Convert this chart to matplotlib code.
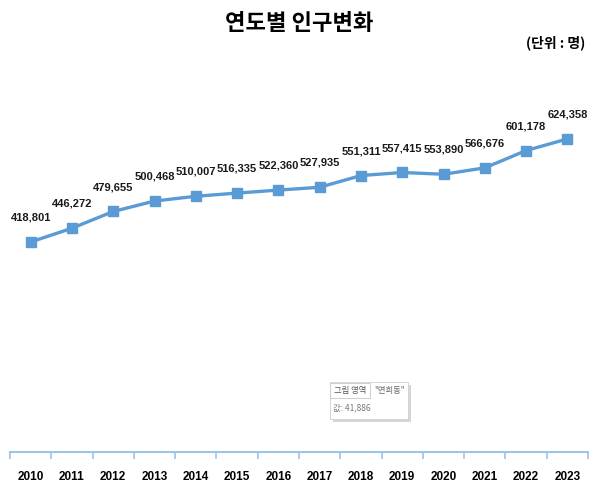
import matplotlib
matplotlib.use('Agg')
import matplotlib.pyplot as plt
from matplotlib.patches import Rectangle

years = ['2010', '2011', '2012', '2013', '2014', '2015', '2016',
         '2017', '2018', '2019', '2020', '2021', '2022', '2023']
population = [418801, 446272, 479655, 500468, 510007, 516335, 522360,
              527935, 551311, 557415, 553890, 566676, 601178, 624358]

title = '연도별 인구변화'
unit_text = '(단위 : 명)'

line_color = '#5B9BD5'
axis_color = '#9DC3E6'
narrow = ['Liberation Sans', 'DejaVu Sans']
kr = ['Noto Sans CJK KR', 'DejaVu Sans']

fig = plt.figure(figsize=(5.98, 4.96), dpi=100)
ax = fig.add_axes([10 / 598, 44 / 496, 578 / 598, 351 / 496])

x = list(range(len(years)))
ax.plot(x, population, color=line_color, linewidth=2.4, marker='s',
        markersize=7.5, markerfacecolor=line_color, markeredgecolor=line_color)

for xi, v in zip(x, population):
    ax.annotate(f'{v:,}', (xi, v), xytext=(0, 14), textcoords='offset points',
                ha='center', va='bottom', fontsize=8, fontweight='bold',
                family=narrow, color='#1a1a1a')

ax.set_xlim(-0.5, len(years) - 0.5)
ax.set_ylim(0, 700000)

# category boundary ticks, labels in the middle
ax.set_xticks([i - 0.5 for i in range(len(years) + 1)])
ax.set_xticklabels([])
ax.set_xticks(x, minor=True)
ax.set_xticklabels(years, minor=True, fontsize=8.5, fontweight='bold', family=narrow)
ax.tick_params(axis='x', which='major', length=5, width=1.2, color=axis_color)
ax.tick_params(axis='x', which='minor', length=0, pad=14)
ax.set_yticks([])

for side in ['top', 'right', 'left']:
    ax.spines[side].set_visible(False)
ax.spines['bottom'].set_color(axis_color)
ax.spines['bottom'].set_linewidth(1.5)

fig.text(0.5, 1 - 23 / 496, title, ha='center', va='center', fontsize=16,
         fontweight='bold', family=kr)
fig.text(585 / 598, 1 - 43 / 496, unit_text, ha='right', va='center',
         fontsize=10, fontweight='bold', family=kr)

# leftover chart tooltip from the spreadsheet
fig.patches.append(Rectangle((333 / 598, 1 - 422 / 496), 78 / 598, 37 / 496,
                             transform=fig.transFigure, facecolor='#bbbbbb',
                             edgecolor='none', alpha=0.6))
fig.patches.append(Rectangle((330 / 598, 1 - 419 / 496), 78 / 598, 37 / 496,
                             transform=fig.transFigure, facecolor='white',
                             edgecolor='#d0d0d0', linewidth=0.6))
fig.patches.append(Rectangle((330 / 598, 1 - 398 / 496), 40 / 598, 15 / 496,
                             transform=fig.transFigure, facecolor='white',
                             edgecolor='#c8c8c8', linewidth=0.6))
fig.text(350 / 598, 1 - 391 / 496, '그림 영역', ha='center', va='center',
         fontsize=6, family=kr, color='#555555')
fig.text(374 / 598, 1 - 391 / 496, '"연희동"', ha='left', va='center',
         fontsize=6, family=kr, color='#666666')
fig.text(333 / 598, 1 - 408 / 496, '값: 41,886', ha='left', va='center',
         fontsize=6, family=kr, color='#777777')

fig.savefig('out.png', dpi=100)
